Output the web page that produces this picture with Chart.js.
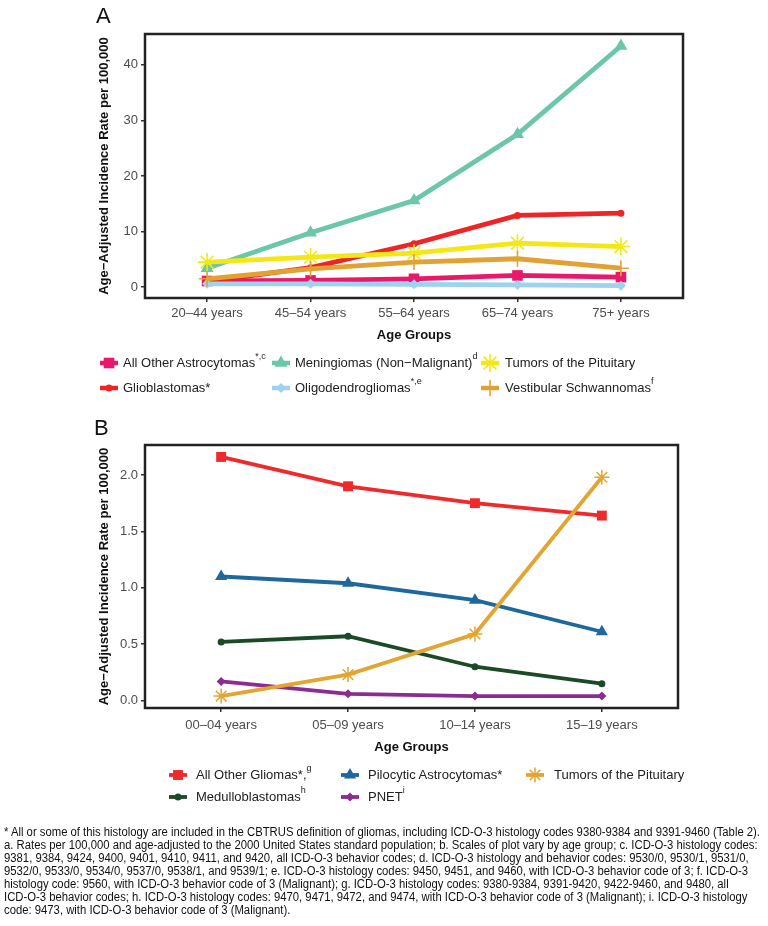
<!DOCTYPE html>
<html><head><meta charset="utf-8">
<script src="https://cdn.jsdelivr.net/npm/chart.js@4.4.1/dist/chart.umd.min.js"></script>
<style>
body{margin:0;background:#fff;width:768px;height:926px;position:relative;overflow:hidden;font-family:"Liberation Sans",Arial,sans-serif;}
canvas{position:absolute;left:0}
#ca{top:0}
#cb{top:412px}
#keys{top:0;pointer-events:none}
.lab{position:absolute;font-size:22px;color:#111;line-height:22px}
.leg{position:absolute;font-size:13px;color:#222;white-space:nowrap;line-height:16px}
.leg sup{font-size:9px;vertical-align:top;position:relative;top:-3px;line-height:9px}
#foot{position:absolute;left:4px;top:826px;font-size:12px;line-height:13px;color:#111;white-space:nowrap;transform-origin:0 0;font-family:"Liberation Sans Narrow","Liberation Sans",Arial,sans-serif;}
</style></head>
<body>
<canvas id="ca" width="768" height="350"></canvas>
<canvas id="cb" width="768" height="348"></canvas>
<canvas id="keys" width="768" height="926"></canvas>
<div class="lab" style="left:96px;top:5px">A</div>
<div class="lab" style="left:94px;top:417px">B</div>
<div id="legs"></div>
<div id="foot"></div>
<script>
// ---------- Panel A data ----------
const agesA = ["20–44 years","45–54 years","55–64 years","65–74 years","75+ years"];
const astrocytomas = [1.1, 1.2, 1.5, 2.1, 1.8];
const glioblastomas = [1.0, 3.5, 7.8, 12.9, 13.3];
const meningiomas = [3.4, 9.8, 15.6, 27.5, 43.4];
const oligodendrogliomas = [0.6, 0.6, 0.5, 0.4, 0.25];
const pituitaryA = [4.5, 5.4, 6.1, 7.9, 7.3];
const vestibular = [1.5, 3.3, 4.5, 5.1, 3.4];
const yTicksA = [0, 10, 20, 30, 40];

// ---------- Panel B data ----------
const agesB = ["00–04 years","05–09 years","10–14 years","15–19 years"];
const otherGliomas = [2.16, 1.90, 1.75, 1.64];
const pilocytic = [1.10, 1.04, 0.89, 0.61];
const pituitaryB = [0.04, 0.23, 0.59, 1.98];
const medulloblastomas = [0.52, 0.57, 0.30, 0.15];
const pnet = [0.17, 0.06, 0.04, 0.04];
const yTicksB = [0, 0.5, 1.0, 1.5, 2.0];

const seriesA = [
  {name:"All Other Astrocytomas", sup:"*,c", vals:astrocytomas, color:"#E9186A", style:"rect", r:7.5, pw:0},
  {name:"Glioblastomas*", sup:"", vals:glioblastomas, color:"#EE2427", style:"circle", r:3.5, pw:0},
  {name:"Meningiomas (Non−Malignant)", sup:"d", vals:meningiomas, color:"#6CC6A8", style:"triangle", r:7.5, pw:0},
  {name:"Oligodendrogliomas", sup:"*,e", vals:oligodendrogliomas, color:"#9DD3F1", style:"rectRot", r:5, pw:0},
  {name:"Tumors of the Pituitary", sup:"", vals:pituitaryA, color:"#F3E816", style:"star", r:9, pw:1.6},
  {name:"Vestibular Schwannomas", sup:"f", vals:vestibular, color:"#E1A233", style:"cross", r:8, pw:1.6}
];
const seriesB = [
  {name:"All Other Gliomas*,", sup:"g", vals:otherGliomas, color:"#EE2A2C", style:"rect", r:7, pw:0},
  {name:"Medulloblastomas", sup:"h", vals:medulloblastomas, color:"#1B4A27", style:"circle", r:3.5, pw:0},
  {name:"Pilocytic Astrocytomas*", sup:"", vals:pilocytic, color:"#1E689C", style:"triangle", r:7, pw:0},
  {name:"PNET", sup:"i", vals:pnet, color:"#8C2C90", style:"rectRot", r:4.5, pw:0},
  {name:"Tumors of the Pituitary", sup:"", vals:pituitaryB, color:"#E3A532", style:"star", r:7.5, pw:1.5}
];

const framePlugin = {id:'frame', afterDraw(chart){
  const {ctx, chartArea:a} = chart;
  ctx.save(); ctx.strokeStyle='#222'; ctx.lineWidth=2.5;
  ctx.strokeRect(a.left, a.top, a.right-a.left, a.bottom-a.top); ctx.restore();
}};

function build(id, cats, series, yMin, yMax, yTicks, fmt, frame, lw, canvasH, xTitlePad, xTickPad){
  const datasets = series.map((s,i)=>({
    label:s.name,
    data:s.vals.map((v,k)=>({x:k,y:v})),
    borderColor:s.color, backgroundColor:s.color,
    borderWidth:lw, pointStyle:s.style, pointRadius:s.r,
    pointBorderWidth:s.pw, pointBorderColor:s.color, pointBackgroundColor:s.color,
    tension:0, order:-i, clip:9
  }));
  return new Chart(document.getElementById(id), {
    type:'line',
    data:{datasets},
    options:{
      responsive:false, animation:false, devicePixelRatio:1,
      layout:{padding:{left:0, top:frame.top, right:768-frame.right, bottom:0}},
      plugins:{legend:{display:false}, tooltip:{enabled:false}},
      scales:{
        x:{type:'linear', min:-0.6, max:cats.length-1+0.6,
          afterBuildTicks:(s)=>{s.ticks=cats.map((c,i)=>({value:i}));},
          afterFit:(s)=>{s.height=canvasH-frame.bottom;},
          ticks:{callback:(v)=>cats[v], color:'#4D4D4D', font:{size:13, family:'"Liberation Sans", Arial'}, padding:xTickPad, maxRotation:0, autoSkip:false},
          grid:{drawOnChartArea:false, drawTicks:true, tickLength:4, color:'#333', lineWidth:1.5},
          border:{display:false},
          title:{display:true, text:'Age Groups', color:'#111', font:{size:13, weight:'bold', family:'"Liberation Sans", Arial'}, padding:{top:0,bottom:xTitlePad}}
        },
        y:{type:'linear', min:yMin, max:yMax,
          afterBuildTicks:(s)=>{s.ticks=yTicks.map(v=>({value:v}));},
          afterFit:(s)=>{s.width=frame.left;},
          ticks:{callback:fmt, color:'#4D4D4D', font:{size:13, family:'"Liberation Sans", Arial'}, padding:3},
          grid:{drawOnChartArea:false, drawTicks:true, tickLength:4, color:'#333', lineWidth:1.5},
          border:{display:false},
          title:{display:true, text:'Age−Adjusted Incidence Rate per 100,000', color:'#111', font:{size:13, weight:'bold', family:'"Liberation Sans", Arial'}, padding:{top:97,bottom:0}}
        }
      }
    },
    plugins:[framePlugin]
  });
}

build('ca', agesA, seriesA, -1.96, 45.56, yTicksA, (v)=>String(v), {left:145, top:34, right:683, bottom:298}, 4.8, 350, 7, 4);
build('cb', agesB, seriesB, -0.066, 2.266, yTicksB, (v)=>v.toFixed(1), {left:145, top:33, right:678, bottom:296}, 3.8, 348, 5, 6);

// ---------- legends ----------
const kctx = document.getElementById('keys').getContext('2d');
function drawKey(x, y, s, lw){
  const c=kctx; c.save();
  c.strokeStyle=s.color; c.fillStyle=s.color; c.lineWidth=lw; c.lineCap='butt';
  c.beginPath(); c.moveTo(x-9,y); c.lineTo(x+9,y); c.stroke();
  const r=s.r; c.lineWidth=s.pw||1.5;
  c.beginPath();
  if(s.style==='rect'){ const h=r*Math.SQRT1_2; c.rect(x-h,y-h,2*h,2*h); c.fill(); }
  else if(s.style==='circle'){ c.arc(x,y,r,0,Math.PI*2); c.fill(); }
  else if(s.style==='triangle'){ c.moveTo(x-r*0.866,y+r*0.5); c.lineTo(x,y-r); c.lineTo(x+r*0.866,y+r*0.5); c.closePath(); c.fill(); }
  else if(s.style==='rectRot'){ c.moveTo(x,y-r); c.lineTo(x+r,y); c.lineTo(x,y+r); c.lineTo(x-r,y); c.closePath(); c.fill(); }
  else if(s.style==='star'){ for(let k=0;k<4;k++){const a=k*Math.PI/4; c.moveTo(x-r*Math.cos(a),y-r*Math.sin(a)); c.lineTo(x+r*Math.cos(a),y+r*Math.sin(a));} c.stroke(); }
  else if(s.style==='cross'){ c.moveTo(x-r,y); c.lineTo(x+r,y); c.moveTo(x,y-r); c.lineTo(x,y+r); c.stroke(); }
  c.restore();
}
const legs=document.getElementById('legs');
function legend(series, pos, lw){
  series.forEach((s,i)=>{
    const p=pos[i];
    drawKey(p.kx, p.y, s, lw);
    const d=document.createElement('div'); d.className='leg';
    d.style.left=p.tx+'px'; d.style.top=(p.y-8)+'px';
    d.innerHTML=s.name+(s.sup?'<sup>'+s.sup+'</sup>':'');
    legs.appendChild(d);
  });
}
legend(seriesA, [
  {kx:109,tx:123,y:363},{kx:109,tx:123,y:388},
  {kx:281,tx:295,y:363},{kx:281,tx:295,y:388},
  {kx:490,tx:505,y:363},{kx:490,tx:505,y:388}
], 4.5);
legend(seriesB, [
  {kx:178,tx:196,y:775},{kx:178,tx:196,y:797},
  {kx:350,tx:368,y:775},{kx:350,tx:368,y:797},
  {kx:535,tx:554,y:775}
], 3.8);

// ---------- footnote ----------
const footLines = [
"* All or some of this histology are included in the CBTRUS definition of gliomas, including ICD-O-3 histology codes 9380-9384 and 9391-9460 (Table 2).",
"a. Rates per 100,000 and age-adjusted to the 2000 United States standard population; b. Scales of plot vary by age group; c. ICD-O-3 histology codes:",
"9381, 9384, 9424, 9400, 9401, 9410, 9411, and 9420, all ICD-O-3 behavior codes; d. ICD-O-3 histology and behavior codes: 9530/0, 9530/1, 9531/0,",
"9532/0, 9533/0, 9534/0, 9537/0, 9538/1, and 9539/1; e. ICD-O-3 histology codes: 9450, 9451, and 9460, with ICD-O-3 behavior code of 3; f. ICD-O-3",
"histology code: 9560, with ICD-O-3 behavior code of 3 (Malignant); g. ICD-O-3 histology codes: 9380-9384, 9391-9420, 9422-9460, and 9480, all",
"ICD-O-3 behavior codes; h. ICD-O-3 histology codes: 9470, 9471, 9472, and 9474, with ICD-O-3 behavior code of 3 (Malignant); i. ICD-O-3 histology",
"code: 9473, with ICD-O-3 behavior code of 3 (Malignant)."
];
const foot=document.getElementById('foot');
footLines.forEach(t=>{const d=document.createElement('div'); d.textContent=t; foot.appendChild(d);});
const w0=foot.firstChild.getBoundingClientRect().width;
foot.style.transform='scaleX('+(756/w0)+')';
</script>
</body></html>
